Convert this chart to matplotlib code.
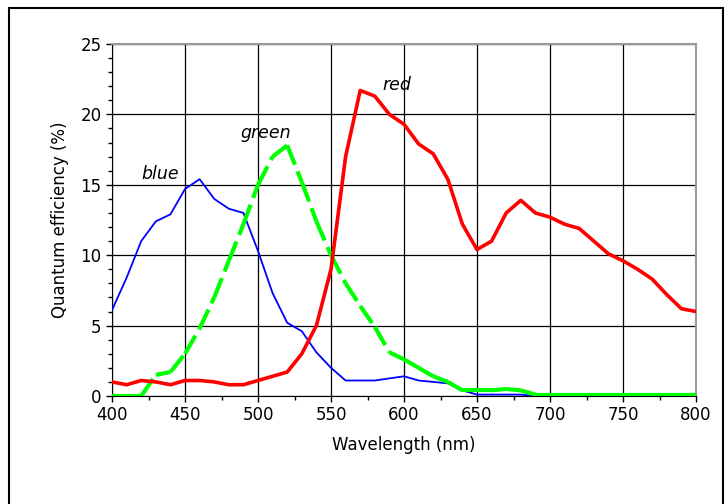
import matplotlib.pyplot as plt
from matplotlib.patches import Rectangle
from matplotlib.ticker import MultipleLocator

# ===== DATA =====
wavelength = list(range(400, 801, 10))

blue = [6.1, 8.4, 11.0, 12.4, 12.9, 14.7, 15.4, 14.0, 13.3, 13.0,
        10.3, 7.3, 5.2, 4.6, 3.1, 2.0, 1.1, 1.1, 1.1, 1.25,
        1.4, 1.1, 1.0, 0.9, 0.4, 0.1, 0.1, 0.1, 0.1, 0.0,
        0.0, 0.0, 0.0, 0.0, 0.0, 0.0, 0.0, 0.0, 0.0, 0.0, 0.0]

green = [0.0, 0.0, 0.0, 1.5, 1.7, 3.0, 4.8, 7.0, 9.6, 12.2,
         15.0, 17.0, 17.8, 15.2, 12.4, 10.0, 8.0, 6.4, 4.9, 3.1,
         2.6, 2.0, 1.4, 1.0, 0.4, 0.4, 0.4, 0.5, 0.4, 0.1,
         0.1, 0.1, 0.1, 0.1, 0.1, 0.1, 0.1, 0.1, 0.1, 0.1, 0.1]

red = [1.0, 0.8, 1.1, 1.0, 0.8, 1.1, 1.1, 1.0, 0.8, 0.8,
       1.1, 1.4, 1.7, 3.0, 5.0, 9.0, 17.0, 21.7, 21.3, 20.0,
       19.3, 17.9, 17.2, 15.4, 12.2, 10.4, 11.0, 13.0, 13.9, 13.0,
       12.7, 12.2, 11.9, 11.0, 10.1, 9.6, 9.0, 8.3, 7.2, 6.2, 6.0]

labels = ["blue", "green", "red"]
label_x = [433, 505, 595]
label_y = [15.8, 18.7, 22.1]

# ===== PLOT =====
fig = plt.figure(figsize=(7.25, 5.04), dpi=100)
ax = fig.add_axes([0.1545, 0.2143, 0.8055, 0.6984])

ax.plot(wavelength, blue, color="#0000ff", lw=1.3, zorder=3)

# dash pattern restarts at every segment (Excel style)
for i in range(len(wavelength) - 1):
    ax.plot(wavelength[i:i + 2], green[i:i + 2], color="#00ff00", lw=3.0,
            linestyle=(0, (5, 1.7)), solid_capstyle="butt",
            dash_capstyle="butt", zorder=4)

ax.plot(wavelength, red, color="#ff0000", lw=2.6, zorder=5)

for t, x, y in zip(labels, label_x, label_y):
    ax.text(x, y, t, style="italic", fontsize=12.5, ha="center", va="center")

ax.set_xlim(400, 800)
ax.set_ylim(0, 25)
ax.xaxis.set_major_locator(MultipleLocator(50))
ax.xaxis.set_minor_locator(MultipleLocator(25))
ax.yaxis.set_major_locator(MultipleLocator(5))
ax.yaxis.set_minor_locator(MultipleLocator(1))
ax.tick_params(axis="both", which="major", labelsize=12, length=4,
               direction="out", width=1)
ax.tick_params(axis="both", which="minor", length=3, direction="out", width=1)
ax.grid(True, which="major", color="black", lw=0.9)

ax.spines["top"].set_color("#999999")
ax.spines["right"].set_color("#999999")
for s in ["top", "right"]:
    ax.spines[s].set_linewidth(1.5)

ax.set_xlabel("Wavelength (nm)", fontsize=12, labelpad=8)
ax.set_ylabel("Quantum efficiency (%)", fontsize=12, labelpad=8)

# outer frame of the chart area
fig.patches.append(Rectangle((0.012, -0.01), 0.985, 0.995, transform=fig.transFigure,
                             fill=False, edgecolor="black", lw=1.5))

plt.savefig("out.png", dpi=100)
plt.close()
